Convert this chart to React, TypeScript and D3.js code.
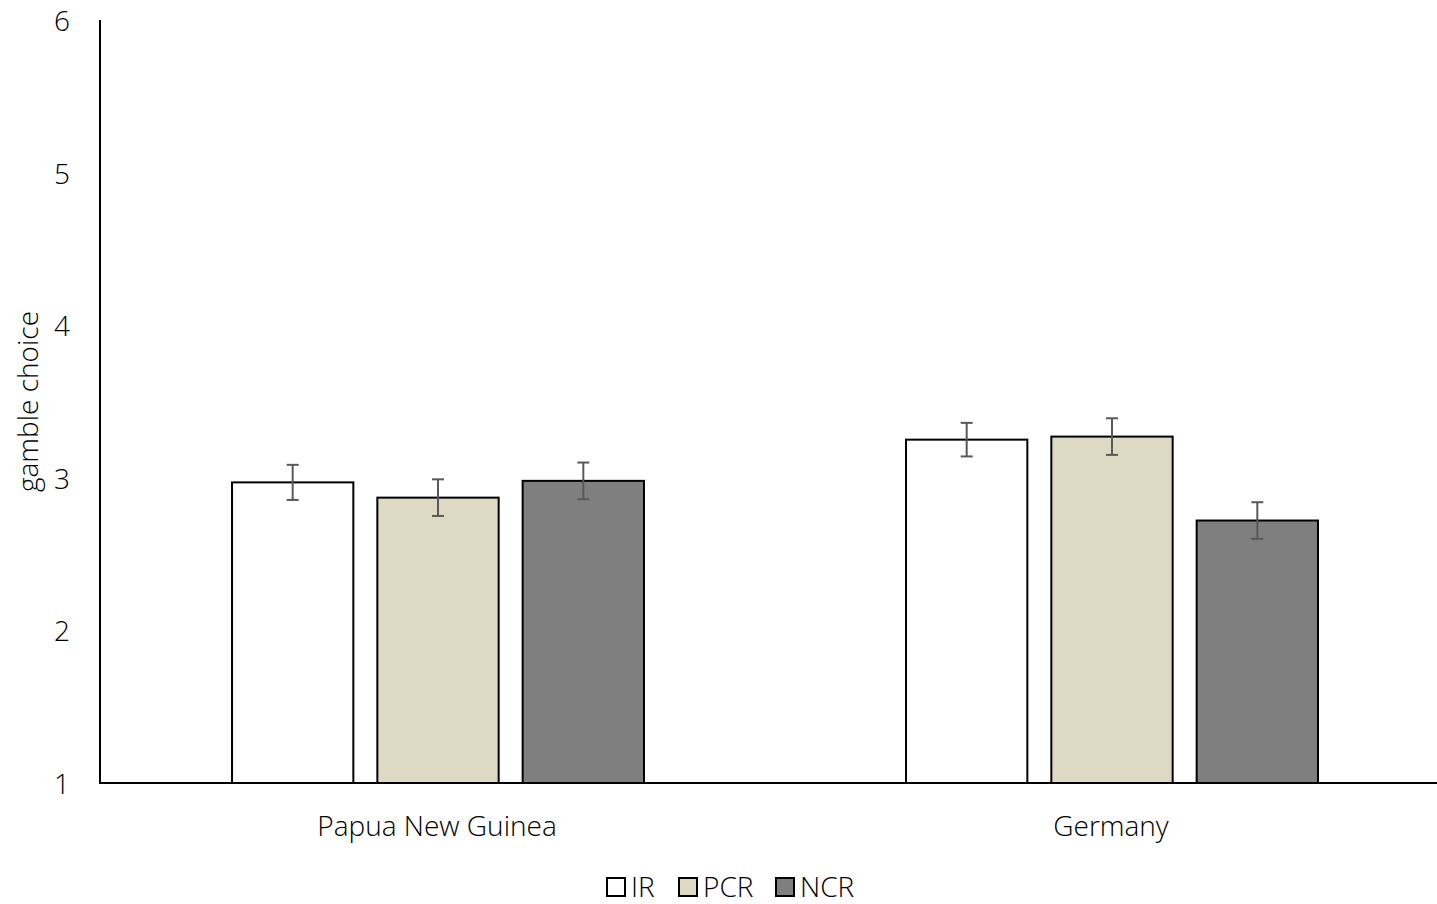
import React from "react";
import * as d3 from "d3";

const countries = ["Papua New Guinea", "Germany"];
const conditions = ["IR", "PCR", "NCR"];
const conditionColors = ["#ffffff", "#ddd9c3", "#7f7f7f"];
const meansIR = [2.97, 3.25];
const meansPCR = [2.87, 3.27];
const meansNCR = [2.98, 2.72];
const errIR = [0.115, 0.11];
const errPCR = [0.12, 0.12];
const errNCR = [0.12, 0.12];
const yTicks = [1, 2, 3, 4, 5, 6];
const yLabel = "gamble choice";

const W = 1437;
const H = 904;
const FONT = "'Open Sans', 'Segoe UI', sans-serif";
const FS = 28;

export default function App() {
  const means = [meansIR, meansPCR, meansNCR];
  const errs = [errIR, errPCR, errNCR];

  const x = d3.scaleBand<string>().domain(countries).range([100, 1448]).paddingInner(0).paddingOuter(0);
  const y = d3.scaleLinear().domain([1, 6]).range([783, 20]);
  const barW = x.bandwidth() * 0.18;
  const gap = 24;
  const groupW = barW * 3 + gap * 2;

  return (
    <svg width={W} height={H} style={{ position: "absolute", left: 0, top: 0, background: "#fff" }}>
      <rect x={0} y={0} width={W} height={H} fill="#fff" />
      {countries.map((c, ci) => {
        const cx = (x(c) as number) + x.bandwidth() / 2;
        const start = cx - groupW / 2 + 1;
        return (
          <g key={c}>
            {conditions.map((k, ki) => {
              const v = means[ki][ci];
              const e = errs[ki][ci];
              const bx = start + ki * (barW + gap);
              const mx = bx + barW / 2;
              return (
                <g key={k}>
                  <rect x={bx} y={y(v)} width={barW} height={y(1) - y(v)} fill={conditionColors[ki]} stroke="#000" strokeWidth={2} />
                  <line x1={mx} x2={mx} y1={y(v + e)} y2={y(v - e)} stroke="#595959" strokeWidth={2} />
                  <line x1={mx - 6} x2={mx + 6} y1={y(v + e)} y2={y(v + e)} stroke="#595959" strokeWidth={2} />
                  <line x1={mx - 6} x2={mx + 6} y1={y(v - e)} y2={y(v - e)} stroke="#595959" strokeWidth={2} />
                </g>
              );
            })}
            <text x={cx} y={825} textAnchor="middle" dominantBaseline="central" fontFamily={FONT} fontWeight={300} fontSize={FS} fill="#000">
              {c}
            </text>
          </g>
        );
      })}
      <line x1={100} x2={100} y1={y(6)} y2={y(1)} stroke="#000" strokeWidth={2} />
      <line x1={99} x2={1448} y1={y(1)} y2={y(1)} stroke="#000" strokeWidth={2} />
      {yTicks.map((t) => (
        <text key={t} x={70} y={y(t)} textAnchor="end" dominantBaseline="central" fontFamily={FONT} fontWeight={300} fontSize={FS} fill="#000">
          {t}
        </text>
      ))}
      <text transform={`translate(27, ${(y(1) + y(6)) / 2}) rotate(-90)`} textAnchor="middle" dominantBaseline="central" fontFamily={FONT} fontWeight={300} fontSize={FS} fill="#000">
        {yLabel}
      </text>
      {conditions.map((k, ki) => {
        const lx = [607, 679, 776][ki];
        return (
          <g key={k}>
            <rect x={lx} y={878} width={18} height={18} fill={conditionColors[ki]} stroke="#000" strokeWidth={2} />
            <text x={lx + 24} y={886} dominantBaseline="central" fontFamily={FONT} fontWeight={300} fontSize={FS} fill="#000">
              {k}
            </text>
          </g>
        );
      })}
    </svg>
  );
}
